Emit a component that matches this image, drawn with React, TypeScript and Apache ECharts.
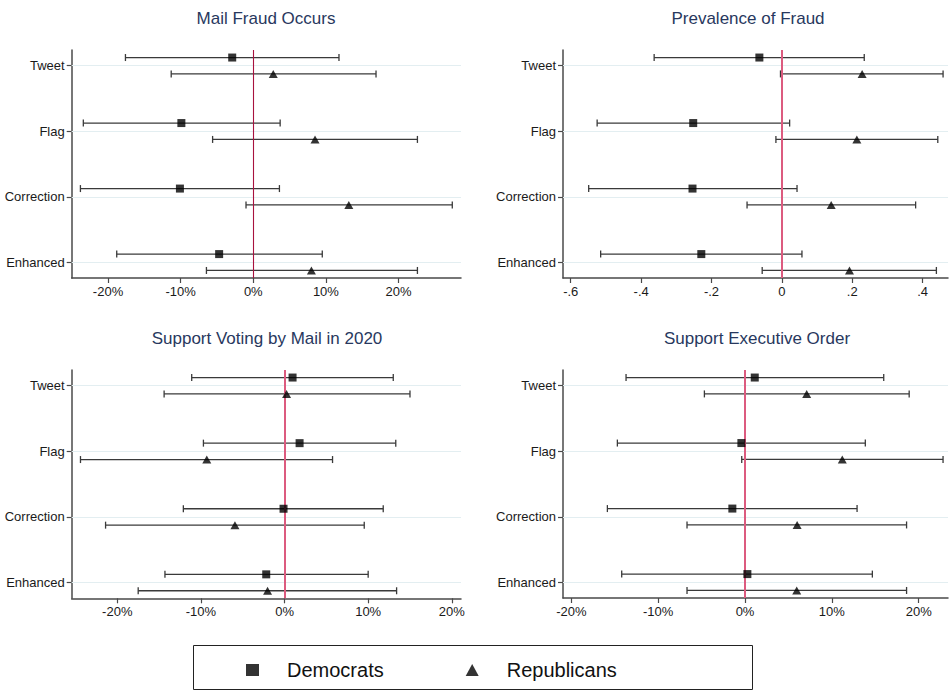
import React, { useEffect, useRef } from 'react';
import * as echarts from 'echarts';

const categories = ['Tweet', 'Flag', 'Correction', 'Enhanced'];
const rowPos = [1, 2, 3, 4];
const pairOffset = 0.125;

const panelTitles = [
  'Mail Fraud Occurs',
  'Prevalence of Fraud',
  'Support Voting by Mail in 2020',
  'Support Executive Order',
];

// Panel 1: Mail Fraud Occurs (percent)
const fraudDemEst = [-2.9, -9.9, -10.1, -4.7];
const fraudDemLo = [-17.6, -23.4, -23.8, -18.8];
const fraudDemHi = [11.8, 3.7, 3.6, 9.5];
const fraudRepEst = [2.75, 8.5, 13.15, 8.0];
const fraudRepLo = [-11.3, -5.6, -1.0, -6.45];
const fraudRepHi = [16.9, 22.6, 27.4, 22.6];

// Panel 2: Prevalence of Fraud (scale units)
const prevDemEst = [-0.064, -0.252, -0.254, -0.229];
const prevDemLo = [-0.363, -0.525, -0.549, -0.515];
const prevDemHi = [0.234, 0.022, 0.043, 0.057];
const prevRepEst = [0.228, 0.213, 0.14, 0.192];
const prevRepLo = [-0.004, -0.017, -0.099, -0.056];
const prevRepHi = [0.458, 0.443, 0.38, 0.439];

// Panel 3: Support Voting by Mail in 2020 (percent)
const voteDemEst = [0.96, 1.8, -0.12, -2.19];
const voteDemLo = [-11.1, -9.7, -12.1, -14.3];
const voteDemHi = [13.0, 13.3, 11.8, 10.0];
const voteRepEst = [0.24, -9.3, -5.93, -2.03];
const voteRepLo = [-14.4, -24.4, -21.4, -17.5];
const voteRepHi = [15.0, 5.74, 9.53, 13.4];

// Panel 4: Support Executive Order (percent)
const execDemEst = [1.12, -0.42, -1.46, 0.27];
const execDemLo = [-13.7, -14.7, -15.85, -14.2];
const execDemHi = [15.97, 13.85, 12.9, 14.66];
const execRepEst = [7.1, 11.2, 6.0, 5.95];
const execRepLo = [-4.68, -0.38, -6.68, -6.68];
const execRepHi = [18.9, 22.8, 18.6, 18.6];

const pctTicks = [-20, -10, 0, 10, 20];
const prevTicks = [-0.6, -0.4, -0.2, 0, 0.2, 0.4];

const FONT = '"Liberation Sans", Arial, Helvetica, sans-serif';

const pctLabel = (v: number) => `${Math.round(v)}%`;
const prevLabel = (v: number) => {
  const r = Math.round(v * 10) / 10;
  if (r === 0) return '0';
  const s = String(Math.abs(r)).replace(/^0/, '');
  return (r < 0 ? '-' : '') + s;
};

const renderErrorBar = (params: any, api: any) => {
  const y = api.value(0);
  const lo = api.value(1);
  const hi = api.value(2);
  const a = api.coord([lo, y]);
  const b = api.coord([hi, y]);
  const h = 3.5;
  const style = { stroke: '#3a3a3a', lineWidth: 1.3 };
  return {
    type: 'group',
    children: [
      { type: 'line', shape: { x1: a[0], y1: a[1], x2: b[0], y2: b[1] }, style },
      { type: 'line', shape: { x1: a[0], y1: a[1] - h, x2: a[0], y2: a[1] + h }, style },
      { type: 'line', shape: { x1: b[0], y1: b[1] - h, x2: b[0], y2: b[1] + h }, style },
    ],
  };
};

export default function App() {
  const ref = useRef<HTMLDivElement>(null);

  useEffect(() => {
    if (!ref.current) return;
    const chart = echarts.init(ref.current, undefined, { renderer: 'svg' });

    const panels = [
      {
        grid: { left: 71.7, top: 50, width: 389.3, height: 228 },
        xMin: -25, xMax: 28.6, ticks: pctTicks, fmt: pctLabel,
        demEst: fraudDemEst, demLo: fraudDemLo, demHi: fraudDemHi,
        repEst: fraudRepEst, repLo: fraudRepLo, repHi: fraudRepHi,
        refColor: '#a8123e', refWidth: 1.1, titleX: 266, titleY: 18,
      },
      {
        grid: { left: 563, top: 50, width: 385, height: 228 },
        xMin: -0.622, xMax: 0.472, ticks: prevTicks, fmt: prevLabel,
        demEst: prevDemEst, demLo: prevDemLo, demHi: prevDemHi,
        repEst: prevRepEst, repLo: prevRepLo, repHi: prevRepHi,
        refColor: '#dc5b7f', refWidth: 2, titleX: 748, titleY: 18,
      },
      {
        grid: { left: 71.7, top: 370, width: 389.3, height: 228.3 },
        xMin: -25.45, xMax: 21.1, ticks: pctTicks, fmt: pctLabel,
        demEst: voteDemEst, demLo: voteDemLo, demHi: voteDemHi,
        repEst: voteRepEst, repLo: voteRepLo, repHi: voteRepHi,
        refColor: '#dc5b7f', refWidth: 2, titleX: 267, titleY: 338,
      },
      {
        grid: { left: 563, top: 370, width: 385, height: 228 },
        xMin: -20.96, xMax: 23.37, ticks: pctTicks, fmt: pctLabel,
        demEst: execDemEst, demLo: execDemLo, demHi: execDemHi,
        repEst: execRepEst, repLo: execRepLo, repHi: execRepHi,
        refColor: '#dc5b7f', refWidth: 2, titleX: 757, titleY: 338,
      },
    ];

    const axisColor = '#4a4a4a';
    const grids: any[] = [];
    const xAxes: any[] = [];
    const yAxes: any[] = [];
    const series: any[] = [];
    const graphics: any[] = [];

    panels.forEach((p, i) => {
      grids.push({ ...p.grid, containLabel: false });
      xAxes.push({
        type: 'value',
        gridIndex: i,
        min: p.xMin,
        max: p.xMax,
        axisLine: { show: true, onZero: false, lineStyle: { color: axisColor, width: 1.5 } },
        axisTick: { show: true, customValues: p.ticks, length: 5, lineStyle: { color: axisColor, width: 1.2 } },
        axisLabel: {
          show: true,
          customValues: p.ticks,
          formatter: p.fmt,
          color: '#1a1a1a',
          fontSize: 13,
          fontFamily: FONT,
          margin: 7,
          showMinLabel: true,
          showMaxLabel: true,
        },
        splitLine: { show: false },
      });
      yAxes.push({
        type: 'value',
        gridIndex: i,
        inverse: true,
        min: 0.76,
        max: 4.24,
        axisLine: { show: true, onZero: false, lineStyle: { color: axisColor, width: 1.5 } },
        axisTick: { show: true, customValues: rowPos, length: 5, lineStyle: { color: axisColor, width: 1.2 } },
        axisLabel: {
          show: true,
          customValues: rowPos,
          formatter: (v: number) => categories[Math.round(v) - 1] ?? '',
          color: '#1a1a1a',
          fontSize: 13,
          fontFamily: FONT,
          margin: 7,
        },
        splitLine: { show: false },
      });

      const demBars = rowPos.map((r, k) => [r - pairOffset, p.demLo[k], p.demHi[k]]);
      const repBars = rowPos.map((r, k) => [r + pairOffset, p.repLo[k], p.repHi[k]]);

      series.push({
        type: 'custom',
        name: 'grid' + i,
        xAxisIndex: i,
        yAxisIndex: i,
        renderItem: renderErrorBar,
        encode: { x: [1, 2], y: 0 },
        data: demBars,
        z: 2,
        silent: true,
        markLine: {
          silent: true,
          symbol: 'none',
          label: { show: false },
          lineStyle: { color: '#e3eef1', width: 1, type: 'solid' },
          data: rowPos.map((r) => ({ yAxis: r })),
          z: 1,
        },
      });
      series.push({
        type: 'custom',
        name: 'bars' + i,
        xAxisIndex: i,
        yAxisIndex: i,
        renderItem: renderErrorBar,
        encode: { x: [1, 2], y: 0 },
        data: repBars,
        z: 2,
        silent: true,
      });
      series.push({
        type: 'scatter',
        name: 'Democrats',
        xAxisIndex: i,
        yAxisIndex: i,
        symbol: 'rect',
        symbolSize: 8,
        itemStyle: { color: '#000' },
        data: p.demEst.map((v, k) => [v, rowPos[k] - pairOffset]),
        z: 5,
        markLine: {
          silent: true,
          symbol: 'none',
          label: { show: false },
          lineStyle: { color: p.refColor, width: p.refWidth, type: 'solid' },
          data: [{ xAxis: 0 }],
          z: 3,
        },
      });
      series.push({
        type: 'scatter',
        name: 'Republicans',
        xAxisIndex: i,
        yAxisIndex: i,
        symbol: 'triangle',
        symbolSize: [9, 8],
        itemStyle: { color: '#000' },
        data: p.repEst.map((v, k) => [v, rowPos[k] + pairOffset]),
        z: 5,
      });

      graphics.push({
        type: 'text',
        x: p.titleX,
        y: p.titleY,
        style: {
          text: panelTitles[i],
          fill: '#28385e',
          font: `17px ${FONT}`,
          align: 'center',
          verticalAlign: 'middle',
        },
      });
    });

    graphics.push({
      type: 'rect',
      x: 193.5,
      y: 645.5,
      shape: { width: 559, height: 44 },
      style: { fill: 'none', stroke: '#222', lineWidth: 1 },
    });

    chart.setOption({
      animation: false,
      backgroundColor: '#ffffff',
      grid: grids,
      xAxis: xAxes,
      yAxis: yAxes,
      series,
      graphic: graphics,
      legend: {
        data: [
          { name: 'Democrats', icon: 'rect' },
          { name: 'Republicans', icon: 'triangle' },
        ],
        left: 241,
        top: 655,
        itemWidth: 13,
        itemHeight: 12,
        itemGap: 82,
        selectedMode: false,
        textStyle: {
          fontSize: 20,
          color: '#111',
          fontFamily: FONT,
          padding: [0, 0, 0, 23],
        },
      },
    });

    return () => chart.dispose();
  }, []);

  return (
    <div
      ref={ref}
      style={{ position: 'absolute', left: 0, top: 0, width: 949, height: 693, background: '#fff' }}
    />
  );
}
